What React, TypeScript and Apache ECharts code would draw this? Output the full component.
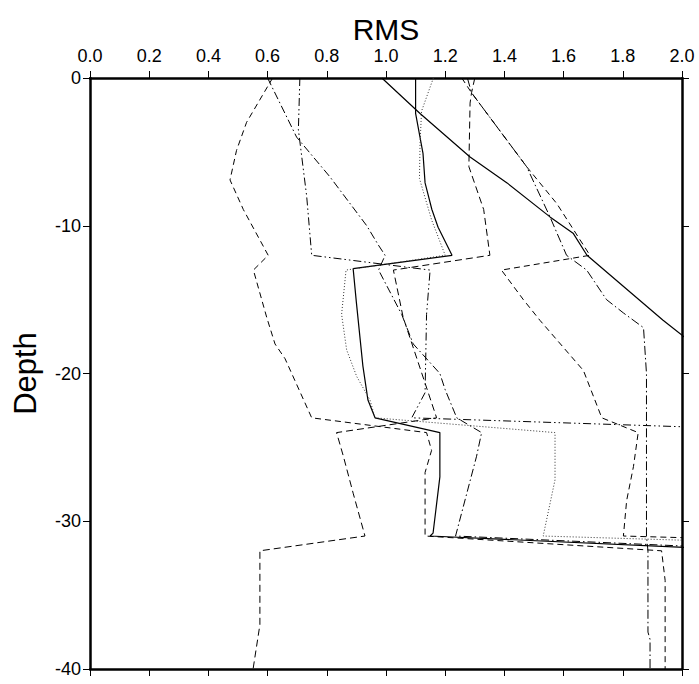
import React, { useEffect, useRef } from "react";
import * as echarts from "echarts";

// Tick labels
const xTicks = ["0.0", "0.2", "0.4", "0.6", "0.8", "1.0", "1.2", "1.4", "1.6", "1.8", "2.0"];
const yTicks = ["-40", "-30", "-20", "-10", "0"];

// Solid curve
const s1Depth = [0, -2.4, -5.35, -7.1, -9.4, -10.5, -12, -16.4, -21];
const s1Rms = [0.986, 1.115, 1.284, 1.409, 1.554, 1.632, 1.679, 1.936, 2.23];

// Solid profile
const s2Depth = [0, -2.4, -5.1, -7.1, -8.9, -10.1, -12, -12.9, -15.2, -19.5, -21.8, -23, -24, -27, -30.8, -31, -32, -40];
const s2Rms = [1.1, 1.1, 1.125, 1.132, 1.155, 1.176, 1.223, 0.889, 0.9, 0.922, 0.939, 0.963, 1.182, 1.182, 1.159, 1.149, 2.27, 2.3];

// Dotted profile
const dotDepth = [0, -2.25, -4.5, -6.8, -9.6, -12, -13, -16, -18.4, -20.2, -21.8, -23, -24, -27.2, -31, -32];
const dotRms = [1.16, 1.12, 1.115, 1.113, 1.154, 1.2, 0.865, 0.85, 0.867, 0.901, 0.946, 0.963, 1.571, 1.571, 1.531, 3.2];

// Dash-dot profile (left start)
const daDepth = [0, -4, -6.7, -10, -11.3, -12, -13, -16, -18, -20, -21.1, -23, -24, -25.6, -31, -32];
const daRms = [0.6, 0.698, 0.811, 0.935, 0.974, 0.997, 0.975, 1.053, 1.092, 1.182, 1.2, 1.239, 1.323, 1.306, 1.235, 2.37];

// Dash-dot-dot profile
const dddDepth = [0, -3.5, -8, -12, -13, -16, -21.3, -23, -24, -40];
const dddRms = [0.709, 0.704, 0.732, 0.749, 1.149, 1.137, 1.132, 1.087, 2.6, 2.6];

// Dashed profile (left, ends near 1.94)
const dlDepth = [0, -3, -4.9, -6.9, -8.9, -12, -13, -16.2, -18, -19, -23, -24, -25.2, -26.7, -31, -32, -34, -40];
const dlRms = [0.617, 0.529, 0.495, 0.473, 0.518, 0.602, 0.552, 0.597, 0.625, 0.659, 0.749, 1.137, 1.154, 1.132, 1.132, 1.931, 1.943, 1.943];

// Dashed profile (ends near 0.55)
const llDepth = [0, -1, -1.7, -6, -8.9, -12, -13, -16.2, -23, -24, -25.6, -28.1, -31, -32, -37, -40];
const llRms = [1.3, 1.289, 1.284, 1.28, 1.33, 1.351, 1.025, 1.058, 1.171, 0.833, 0.856, 0.889, 0.929, 0.574, 0.574, 0.551];

// Dashed profile (right)
const rdDepth = [0, -1, -6, -8.5, -12, -13, -15, -16.4, -19.8, -23, -24, -26.3, -28.6, -31, -32];
const rdRms = [1.256, 1.289, 1.475, 1.577, 1.689, 1.39, 1.464, 1.52, 1.667, 1.729, 1.852, 1.836, 1.813, 1.802, 3.6];

// Dash-dot profile (right)
const rdaDepth = [0, -1, -6, -9.4, -12, -13, -15, -15.9, -16.9, -20, -31, -32, -37.5, -38, -40];
const rdaRms = [1.275, 1.289, 1.475, 1.554, 1.61, 1.678, 1.745, 1.802, 1.87, 1.88, 1.88, 1.885, 1.885, 1.892, 1.892];

const pairs = (r: number[], d: number[]) => r.map((v, i) => [v, d[i]]);

const FONT = "Liberation Sans";

export default function App() {
  const ref = useRef<HTMLDivElement>(null);
  useEffect(() => {
    document.body.style.margin = "0";
    const chart = echarts.init(ref.current!, undefined, { renderer: "svg" });
    const mk = (name: string, r: number[], d: number[], type: any, width = 1, color = "#000") => ({
      name,
      type: "line",
      data: pairs(r, d),
      symbol: "none",
      clip: true,
      xAxisIndex: 0,
      yAxisIndex: 0,
      lineStyle: { color, width, type },
    });
    const axisLine = { show: true, onZero: false, lineStyle: { color: "#000", width: 2.5 } };
    const tick = { show: true, inside: false, length: 7, lineStyle: { color: "#000", width: 1 } };
    chart.setOption({
      animation: false,
      backgroundColor: "#fff",
      grid: { left: 90, right: 17, top: 78, bottom: 15, containLabel: false },
      xAxis: [
        {
          type: "value",
          position: "top",
          min: 0,
          max: 2,
          interval: 0.2,
          name: "RMS",
          nameLocation: "middle",
          nameGap: 34,
          nameMoveOverlap: false,
          nameTextStyle: { fontFamily: FONT, fontSize: 30, color: "#000" },
          axisLine,
          axisTick: tick,
          splitLine: { show: false },
          axisLabel: {
            fontFamily: FONT,
            fontSize: 18,
            color: "#000",
            margin: 13,
            formatter: (v: number) => xTicks[Math.round(v / 0.2)] ?? "",
          },
        },
        {
          type: "value",
          position: "bottom",
          min: 0,
          max: 2,
          interval: 0.2,
          axisLine,
          axisTick: tick,
          splitLine: { show: false },
          axisLabel: { show: false },
        },
      ],
      yAxis: [
        {
          type: "value",
          position: "left",
          min: -40,
          max: 0,
          interval: 10,
          name: "Depth",
          nameLocation: "middle",
          nameGap: 49,
          nameMoveOverlap: false,
          nameTextStyle: { fontFamily: FONT, fontSize: 31, color: "#000" },
          axisLine,
          axisTick: tick,
          splitLine: { show: false },
          axisLabel: {
            fontFamily: FONT,
            fontSize: 18,
            color: "#000",
            margin: 9,
            formatter: (v: number) => yTicks[Math.round((v + 40) / 10)] ?? "",
          },
        },
        {
          type: "value",
          position: "right",
          min: -40,
          max: 0,
          interval: 10,
          axisLine,
          axisTick: tick,
          splitLine: { show: false },
          axisLabel: { show: false },
        },
      ],
      series: [
        mk("s1", s1Rms, s1Depth, "solid", 1.2),
        mk("s2", s2Rms, s2Depth, "solid", 1.2),
        mk("dot", dotRms, dotDepth, [1, 2], 1, "#333"),
        mk("da", daRms, daDepth, [8, 3, 1.5, 3], 1),
        mk("ddd", dddRms, dddDepth, [8, 3, 1.5, 3, 1.5, 3], 1),
        mk("dl", dlRms, dlDepth, [6, 4], 1),
        mk("ll", llRms, llDepth, [7, 4], 1),
        mk("rd", rdRms, rdDepth, [6, 4], 1),
        mk("rda", rdaRms, rdaDepth, [9, 3, 1.5, 3], 1),
      ],
    });
    return () => chart.dispose();
  }, []);
  return (
    <div
      ref={ref}
      style={{ position: "absolute", left: 0, top: 0, width: 699, height: 684 }}
    />
  );
}
